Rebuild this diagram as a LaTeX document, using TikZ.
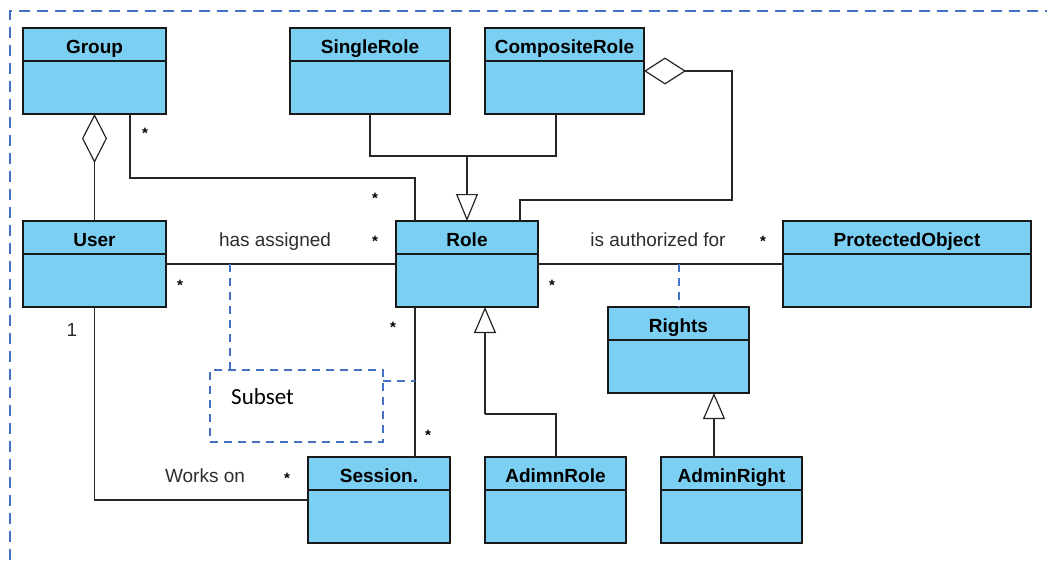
\documentclass[tikz,border=0pt]{standalone}
\usepackage{fontspec}
\setmainfont{Liberation Sans}
\newfontfamily\subsetfont{Carlito}
\usetikzlibrary{arrows.meta,calc}
\definecolor{clsfill}{RGB}{122,207,243}
\definecolor{dashblue}{RGB}{68,114,196}
\definecolor{lbl}{RGB}{45,45,45}
\tikzset{
  cls/.style={draw=black!90, line width=1.6pt, fill=clsfill, inner sep=0pt, outer sep=0pt, rectangle},
  clstitle/.style={font=\fontsize{19}{22}\selectfont\bfseries, inner sep=0pt, anchor=base},
  conn/.style={draw=black!85, line width=1.2pt},
  gentip/.style={conn, -{Triangle[length=27pt,width=22pt,fill=white]}},
  assoclbl/.style={font=\fontsize{19}{22}\selectfont, text=lbl, inner sep=0pt, anchor=base},
  mult/.style={font=\fontsize{15}{18}\selectfont\bfseries, inner sep=0pt, anchor=base},
  bluedash/.style={draw=dashblue, line width=2pt, dash pattern=on 8pt off 6pt},
  outerframe/.style={draw=dashblue, line width=2pt, dash pattern=on 11pt off 7pt},
}
\newcommand\umlclass[6]{%
  \node[cls, minimum width=#4, minimum height=86pt, anchor=north west] (#1) at (#2,#3) {};
  \draw[line width=1.6pt, black!90] ([yshift=-33pt]#1.north west) -- ([yshift=-33pt]#1.north east);
  \node[clstitle] (#1-t) at ([yshift=-25pt]#1.north) {#5};
}
\begin{document}
\begin{tikzpicture}[x=1pt,y=-1pt]
\useasboundingbox (0,0) rectangle (1047,560);
% outer dashed frame
\draw[outerframe] (10,560) -- (10,11) -- (1047,11);

% classes
\umlclass{group}{23}{28}{143pt}{Group}{}
\umlclass{single}{290}{28}{160pt}{SingleRole}{}
\umlclass{composite}{485}{28}{159pt}{CompositeRole}{}
\umlclass{user}{23}{221}{143pt}{User}{}
\umlclass{role}{396}{221}{142pt}{Role}{}
\umlclass{po}{783}{221}{248pt}{ProtectedObject}{}
\umlclass{rights}{608}{307}{141pt}{Rights}{}
\umlclass{session}{308}{457}{142pt}{Session.}{}
\umlclass{adimn}{485}{457}{141pt}{AdimnRole}{}
\umlclass{adminright}{661}{457}{141pt}{AdminRight}{}

% subset note
\node[bluedash, minimum width=173pt, minimum height=72pt, inner sep=0pt, outer sep=0pt, anchor=north west] (subset) at (210,370) {};
\node[font=\subsetfont\fontsize{23}{26}\selectfont, inner sep=0pt, anchor=base west] (subset-t) at (231,404) {Subset};

% helper coordinates
\coordinate (gr) at (415,178);
\coordinate (sc) at (467,156);
\coordinate (cr) at (732,200);
\coordinate (ar) at (485,414);
\coordinate (ha) at (230,264);
\coordinate (rs) at (415,381);
\coordinate (ia) at (rights.north |- role.east);

% Group aggregation of User
\draw[{Diamond[length=49pt,width=25pt,fill=white]}-, conn] (group.south) -- (user.north);
% Group -- Role association
\draw[conn] ([xshift=107pt]group.south west) |- (gr) -- ([xshift=19pt]role.north west);
% SingleRole / CompositeRole generalization to Role
\draw[conn] (single.south) |- (sc) -| ([xshift=71pt]composite.south west);
\draw[gentip] (sc) -- (role.north);
% CompositeRole aggregation of Role
\draw[{Diamond[length=42pt,width=27pt,fill=white]}-, conn] (composite.east) -| (cr) -| ([xshift=124pt]role.north west);
% User -- Role
\draw[conn] (user.east) -- (role.west);
% Role -- ProtectedObject
\draw[conn] (role.east) -- (po.west);
% Role -- Session
\draw[conn] ([xshift=19pt]role.south west) -- ([xshift=107pt]session.north west);
% User -- Session
\draw[conn] (user.south) |- (session.west);
% AdimnRole generalization
\draw[conn] ([xshift=71pt]adimn.north west) |- (ar);
\draw[conn, -{Triangle[length=26pt,width=22pt,fill=white]}] (ar) -- ([xshift=89pt]role.south west);
% AdminRight generalization
\draw[conn, -{Triangle[length=26pt,width=22pt,fill=white]}] ([xshift=53pt]adminright.north west) -- ([xshift=106pt]rights.south west);

% blue dashed links
\draw[bluedash] (ha) -- ([xshift=20pt]subset.north west);
\draw[bluedash] ([yshift=-11pt]subset.north east) -- (rs);
\draw[bluedash] (ia) -- (rights.north);

% labels
\node[assoclbl] (l-has) at (275,246) {has assigned};
\node[assoclbl] (l-auth) at (658,246) {is authorized for};
\node[assoclbl] (l-works) at (205,482) {Works on};
\node[assoclbl] (l-one) at (72,336) {1};

\node[mult] (m1) at (145,138.6) {*};
\node[mult] (m2) at (375,203.6) {*};
\node[mult] (m3) at (375,246.6) {*};
\node[mult] (m4) at (180,290.6) {*};
\node[mult] (m5) at (552,290.6) {*};
\node[mult] (m6) at (763,246.6) {*};
\node[mult] (m7) at (393,332.6) {*};
\node[mult] (m8) at (428,440.6) {*};
\node[mult] (m9) at (287,483.6) {*};
\end{tikzpicture}
\end{document}
